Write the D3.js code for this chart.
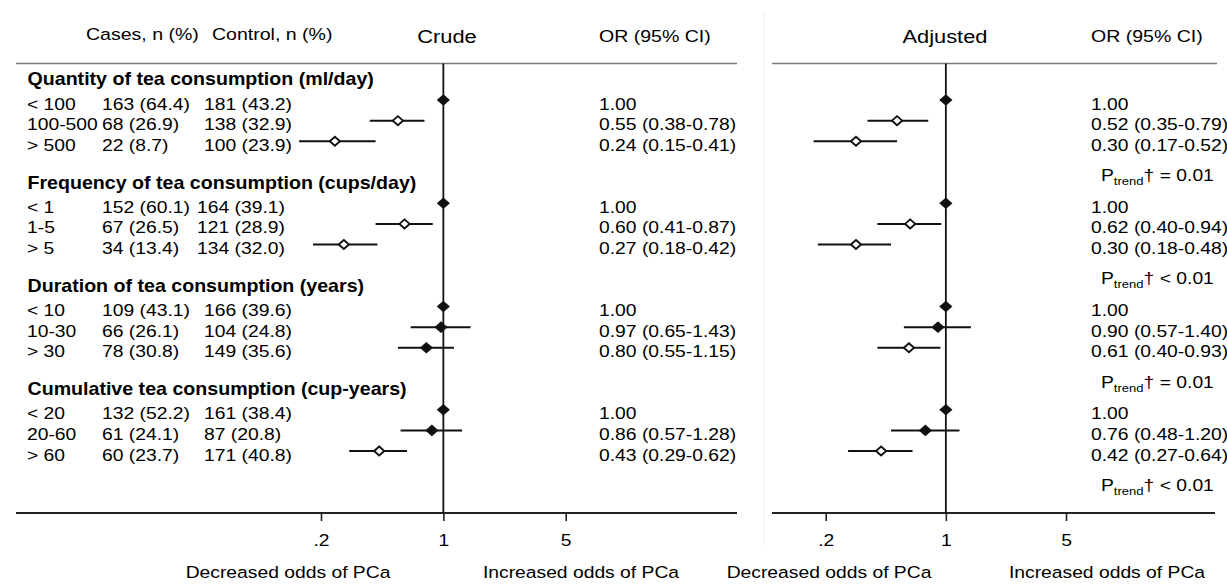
<!DOCTYPE html>
<html>
<head>
<meta charset="utf-8">
<script src="https://cdn.jsdelivr.net/npm/d3@7"></script>
<style>
    html, body { margin: 0; padding: 0; background: #fff; }
    svg { display: block; }
    text { font-family: 'Liberation Sans', Arial, sans-serif; fill: #000; }
</style>
</head>
<body>
<div id="chart"></div>
<script>
const groupTitles = [
    'Quantity of tea consumption (ml/day)',
    'Frequency of tea consumption (cups/day)',
    'Duration of tea consumption (years)',
    'Cumulative tea consumption (cup-years)'
];
const levelLabels = [
    ['< 100', '100-500', '> 500'],
    ['< 1', '1-5', '> 5'],
    ['< 10', '10-30', '> 30'],
    ['< 20', '20-60', '> 60']
];
const casesText = [
    ['163 (64.4)', '68 (26.9)', '22 (8.7)'],
    ['152 (60.1)', '67 (26.5)', '34 (13.4)'],
    ['109 (43.1)', '66 (26.1)', '78 (30.8)'],
    ['132 (52.2)', '61 (24.1)', '60 (23.7)']
];
const controlText = [
    ['181 (43.2)', '138 (32.9)', '100 (23.9)'],
    ['164 (39.1)', '121 (28.9)', '134 (32.0)'],
    ['166 (39.6)', '104 (24.8)', '149 (35.6)'],
    ['161 (38.4)', '87 (20.8)', '171 (40.8)']
];
const crudeOR = [[1, 0.55, 0.24], [1, 0.60, 0.27], [1, 0.97, 0.80], [1, 0.86, 0.43]];
const crudeLow = [[null, 0.38, 0.15], [null, 0.41, 0.18], [null, 0.65, 0.55], [null, 0.57, 0.29]];
const crudeHigh = [[null, 0.78, 0.41], [null, 0.87, 0.42], [null, 1.43, 1.15], [null, 1.28, 0.62]];
const adjOR = [[1, 0.52, 0.30], [1, 0.62, 0.30], [1, 0.90, 0.61], [1, 0.76, 0.42]];
const adjLow = [[null, 0.35, 0.17], [null, 0.40, 0.18], [null, 0.57, 0.40], [null, 0.48, 0.27]];
const adjHigh = [[null, 0.79, 0.52], [null, 0.94, 0.48], [null, 1.40, 0.93], [null, 1.20, 0.64]];
const pTrendSign = ['=', '<', '=', '<'];
const pTrendValue = '0.01';
const axisTicks = [0.2, 1, 5];
const tickLabels = ['.2', '1', '5'];

const WIDTH = 1227;
const HEIGHT = 585;
const FONT_SIZE = 17;
const STRETCH = 1.135;
const TOP_Y = 63.5;
const AXIS_Y = 513;
// control column in the frequency block sits a little further left in the original
const controlX = [204, 197, 204, 204];

document.addEventListener('DOMContentLoaded', () => {
    drawChart();
});

function addText(parent, x, y, content, opts = {}) {
    const size = opts.size || FONT_SIZE;
    const stretch = opts.stretch || STRETCH;
    return parent.append('text')
        .attr('transform', `translate(${x},${y}) scale(${stretch},1)`)
        .attr('text-anchor', opts.anchor || 'start')
        .attr('font-size', size)
        .attr('font-weight', opts.bold ? 'bold' : null)
        .text(content);
}

function diamond(hw, hh) {
    return `M0,${-hh}L${hw},0L0,${hh}L${-hw},0Z`;
}

function formatOR(or, lo, hi) {
    if (lo === null) return or.toFixed(2);
    return `${or.toFixed(2)} (${lo.toFixed(2)}-${hi.toFixed(2)})`;
}

function drawChart() {
    const svg = d3.select('#chart')
        .append('svg')
        .attr('width', WIDTH)
        .attr('height', HEIGHT);

    const yRow = d3.scaleLinear().domain([0, 20]).range([79.35, 492.35]);

    const panels = [
        {
            title: 'Crude', titleX: 447, orX: 599, lineX: [16, 737], axisX: [16, 737],
            x: d3.scaleLog().domain([0.2, 5]).range([321, 565.7]),
            or: crudeOR, lo: crudeLow, hi: crudeHigh
        },
        {
            title: 'Adjusted', titleX: 945, orX: 1091, lineX: [772, 1217], axisX: [772, 1215],
            x: d3.scaleLog().domain([0.2, 5]).range([825.7, 1066]),
            or: adjOR, lo: adjLow, hi: adjHigh
        }
    ];

    // faint divider between the two panels
    svg.append('line')
        .attr('x1', 764).attr('x2', 764)
        .attr('y1', 13).attr('y2', 545)
        .attr('stroke', '#eeeeee')
        .attr('stroke-width', 1);

    addText(svg, 86, 40, 'Cases, n (%)', { stretch: 1.15 });
    addText(svg, 212, 40, 'Control, n (%)', { stretch: 1.15 });

    panels.forEach((panel) => {
        const g = svg.append('g');

        addText(g, panel.titleX, 43, panel.title, { anchor: 'middle', size: 18.5, stretch: 1.18 });
        addText(g, panel.orX, 41.5, 'OR (95% CI)', { stretch: 1.15 });

        g.append('line')
            .attr('x1', panel.lineX[0]).attr('x2', panel.lineX[1])
            .attr('y1', TOP_Y).attr('y2', TOP_Y)
            .attr('stroke', '#7a7a7a')
            .attr('stroke-width', 1.3);

        g.append('line')
            .attr('x1', panel.axisX[0]).attr('x2', panel.axisX[1])
            .attr('y1', AXIS_Y).attr('y2', AXIS_Y)
            .attr('stroke', '#222')
            .attr('stroke-width', 2);

        g.append('line')
            .attr('x1', panel.x(1)).attr('x2', panel.x(1))
            .attr('y1', TOP_Y).attr('y2', AXIS_Y)
            .attr('stroke', '#111')
            .attr('stroke-width', 1.8);

        const axis = d3.axisBottom(panel.x)
            .tickValues(axisTicks)
            .tickFormat((d, i) => tickLabels[i])
            .tickSize(8);

        g.append('g')
            .attr('transform', `translate(0,${AXIS_Y})`)
            .call(axis)
            .call((a) => a.select('.domain').remove())
            .call((a) => a.selectAll('.tick line').attr('stroke', '#222').attr('stroke-width', 1.6))
            .call((a) => a.selectAll('.tick text')
                .attr('y', 33)
                .attr('dy', null)
                .attr('fill', '#000')
                .attr('font-size', FONT_SIZE)
                .attr('font-family', "'Liberation Sans', Arial, sans-serif")
                .attr('transform', `scale(${STRETCH},1)`));

        panel.or.forEach((rows, gi) => {
            rows.forEach((or, ri) => {
                const y = yRow(gi * 5 + 1 + ri);
                const lo = panel.lo[gi][ri];
                const hi = panel.hi[gi][ri];

                if (lo !== null) {
                    g.append('line')
                        .attr('x1', panel.x(lo)).attr('x2', panel.x(hi))
                        .attr('y1', y).attr('y2', y)
                        .attr('stroke', '#111')
                        .attr('stroke-width', 2);
                }

                const hollow = hi !== null && hi < 1;
                g.append('path')
                    .attr('transform', `translate(${panel.x(or)},${y})`)
                    .attr('d', hollow ? diamond(5.1, 4.5) : diamond(6.6, 5.8))
                    .attr('fill', hollow ? '#fff' : '#111')
                    .attr('stroke', hollow ? '#111' : 'none')
                    .attr('stroke-width', 1.9)
                    .attr('stroke-linejoin', 'miter');

                addText(g, panel.orX, y + 9.5, formatOR(or, lo, hi));
            });
        });
    });

    groupTitles.forEach((title, gi) => {
        addText(svg, 27.5, yRow(gi * 5) + 6, title, { bold: true, size: 18, stretch: 1.09 });

        levelLabels[gi].forEach((label, ri) => {
            const baseline = yRow(gi * 5 + 1 + ri) + 9.5;
            addText(svg, 27, baseline, label);
            addText(svg, 102, baseline, casesText[gi][ri]);
            addText(svg, controlX[gi], baseline, controlText[gi][ri]);
        });

        const pText = addText(svg, 1101, yRow(gi * 5 + 5) - 1.5, '');
        pText.append('tspan').text('P');
        pText.append('tspan').attr('dy', 4).attr('font-size', 11.5).text('trend');
        pText.append('tspan').attr('dy', -4).text(`\u2020 ${pTrendSign[gi]} ${pTrendValue}`);
    });

    addText(svg, 288, 578, 'Decreased odds of PCa', { anchor: 'middle' });
    addText(svg, 581, 578, 'Increased odds of PCa', { anchor: 'middle' });
    addText(svg, 829, 578, 'Decreased odds of PCa', { anchor: 'middle' });
    addText(svg, 1107, 578, 'Increased odds of PCa', { anchor: 'middle' });
}
</script>
</body>
</html>
